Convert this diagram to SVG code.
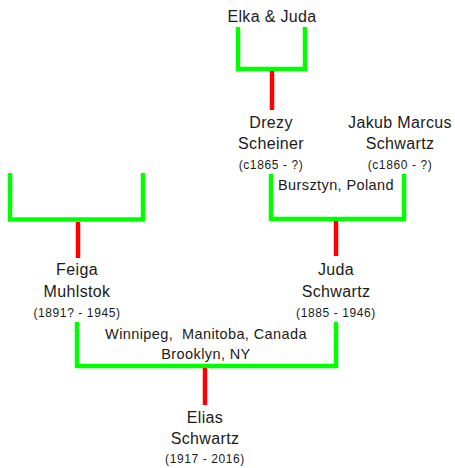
<svg xmlns="http://www.w3.org/2000/svg" width="455" height="468" viewBox="0 0 455 468">
  <style>
    .couple { fill: none; stroke: #00ff00; stroke-width: 4.5; stroke-linejoin: miter; }
    .child { fill: none; stroke: #ff0000; stroke-width: 4.5; }
    text { font-family: "Liberation Sans", Arial, sans-serif; fill: #1a1a1a; text-anchor: middle; }
    .name { font-size: 16px; letter-spacing: 0.35px; }
    .dates { font-size: 12px; letter-spacing: 0.6px; }
    .place { font-size: 14.5px; letter-spacing: 0.4px; }
  </style>
  <rect width="455" height="468" fill="#ffffff"/>

  <g id="connectors">
    <!-- couple brackets -->
    <path class="couple" d="M238,27 V69 H305 V27"/>
    <path class="couple" d="M271,174 V219 H404 V174"/>
    <path class="couple" d="M10,173 V219.5 H143 V173"/>
    <path class="couple" d="M77,322 V366 H336 V322"/>
    <!-- descent lines -->
    <path class="child" d="M272,71 V110"/>
    <path class="child" d="M336,221 V256"/>
    <path class="child" d="M78,222 V258"/>
    <path class="child" d="M205,368 V405"/>
  </g>

  <g id="elka-juda">
    <text class="name" x="272" y="22">Elka &amp; Juda</text>
  </g>

  <g id="drezy-scheiner">
    <text class="name" x="271" y="128">Drezy</text>
    <text class="name" x="271" y="149">Scheiner</text>
    <text class="dates" x="271" y="169">(c1865 - ?)</text>
  </g>

  <g id="jakub-marcus-schwartz">
    <text class="name" x="400" y="128">Jakub Marcus</text>
    <text class="name" x="400" y="149">Schwartz</text>
    <text class="dates" x="400" y="169">(c1860 - ?)</text>
  </g>

  <g id="bursztyn">
    <text class="place" x="336" y="190">Bursztyn, Poland</text>
  </g>

  <g id="feiga-muhlstok">
    <text class="name" x="77" y="275">Feiga</text>
    <text class="name" x="77" y="297">Muhlstok</text>
    <text class="dates" x="77" y="317">(1891? - 1945)</text>
  </g>

  <g id="juda-schwartz">
    <text class="name" x="336" y="275">Juda</text>
    <text class="name" x="336" y="297">Schwartz</text>
    <text class="dates" x="336" y="317">(1885 - 1946)</text>
  </g>

  <g id="winnipeg-brooklyn">
    <text class="place" x="206" y="339" xml:space="preserve">Winnipeg,  Manitoba, Canada</text>
    <text class="place" x="206" y="359">Brooklyn, NY</text>
  </g>

  <g id="elias-schwartz">
    <text class="name" x="205" y="423">Elias</text>
    <text class="name" x="205" y="444">Schwartz</text>
    <text class="dates" x="205" y="463">(1917 - 2016)</text>
  </g>
</svg>
